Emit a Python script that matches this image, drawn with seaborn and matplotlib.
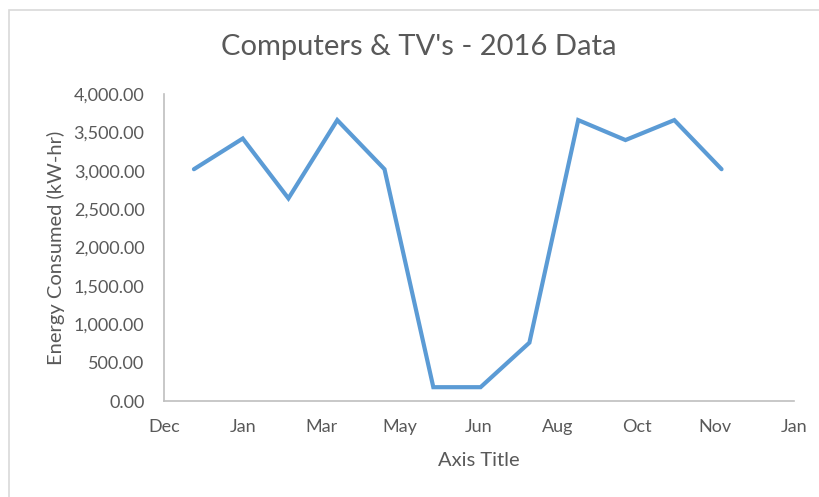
import matplotlib
matplotlib.use("Agg")
import matplotlib.pyplot as plt
import matplotlib.dates as mdates
from matplotlib.patches import Rectangle
from matplotlib.ticker import FuncFormatter
import numpy as np
import pandas as pd
import seaborn as sns

# monthly readings (end of each month)
dates = ["2015-12-31", "2016-01-31", "2016-02-29", "2016-03-31", "2016-04-30", "2016-05-31",
         "2016-06-30", "2016-07-31", "2016-08-31", "2016-09-30", "2016-10-31", "2016-11-30"]
energy = [3020, 3420, 2640, 3660, 3020, 180, 180, 760, 3660, 3400, 3660, 3020]
y_ticks = [0, 500, 1000, 1500, 2000, 2500, 3000, 3500, 4000]

df = pd.DataFrame({"date": pd.to_datetime(dates), "energy": energy})

sns.set_style("white")
plt.rcParams["font.family"] = ["Lato", "DejaVu Sans"]
grey = "#595959"

fig = plt.figure(figsize=(8.19, 4.97), dpi=100)
ax = fig.add_axes([164/819, 96/497, 630/819, 307/497])

# chart border like the Excel frame
fig.patches.append(Rectangle((9/819, -0.1), 1.2, 1 - 10/497 + 0.1, transform=fig.transFigure,
                             fill=False, edgecolor="#d9d9d9", linewidth=1.2))

sns.lineplot(data=df, x="date", y="energy", ax=ax, color="#5B9BD5", linewidth=3.0)
for l in ax.lines:
    l.set_solid_joinstyle("miter")
    l.set_solid_capstyle("round")

# date axis, one tick every 50 days
start = pd.Timestamp("2015-12-12")
ticks = [start + pd.Timedelta(days=50 * k) for k in range(9)]
ax.set_xlim(mdates.date2num(ticks[0]), mdates.date2num(ticks[-1]))
ax.set_xticks([mdates.date2num(t) for t in ticks])
ax.xaxis.set_major_formatter(mdates.DateFormatter("%b"))

ax.set_ylim(0, 4000)
ax.set_yticks(y_ticks)
ax.yaxis.set_major_formatter(FuncFormatter(lambda v, p: "{:,.2f}".format(v)))

for s in ["top", "right"]:
    ax.spines[s].set_visible(False)
for s in ["left", "bottom"]:
    ax.spines[s].set_color("#bfbfbf")
    ax.spines[s].set_linewidth(1.2)
ax.tick_params(direction="in", length=5, width=1.0, color="#bfbfbf",
               labelsize=13, labelcolor=grey)
ax.tick_params(axis="y", pad=14)
ax.tick_params(axis="x", pad=13)

ax.set_xlabel("Axis Title", fontsize=14.5, color=grey, labelpad=12)
ax.set_ylabel("Energy Consumed (kW-hr)", fontsize=14.5, color=grey, labelpad=6)
fig.text(419/819, 1 - 47/497, "Computers & TV's - 2016 Data", ha="center", va="center",
         fontsize=21, color=grey)

fig.savefig("out.png", dpi=100)
